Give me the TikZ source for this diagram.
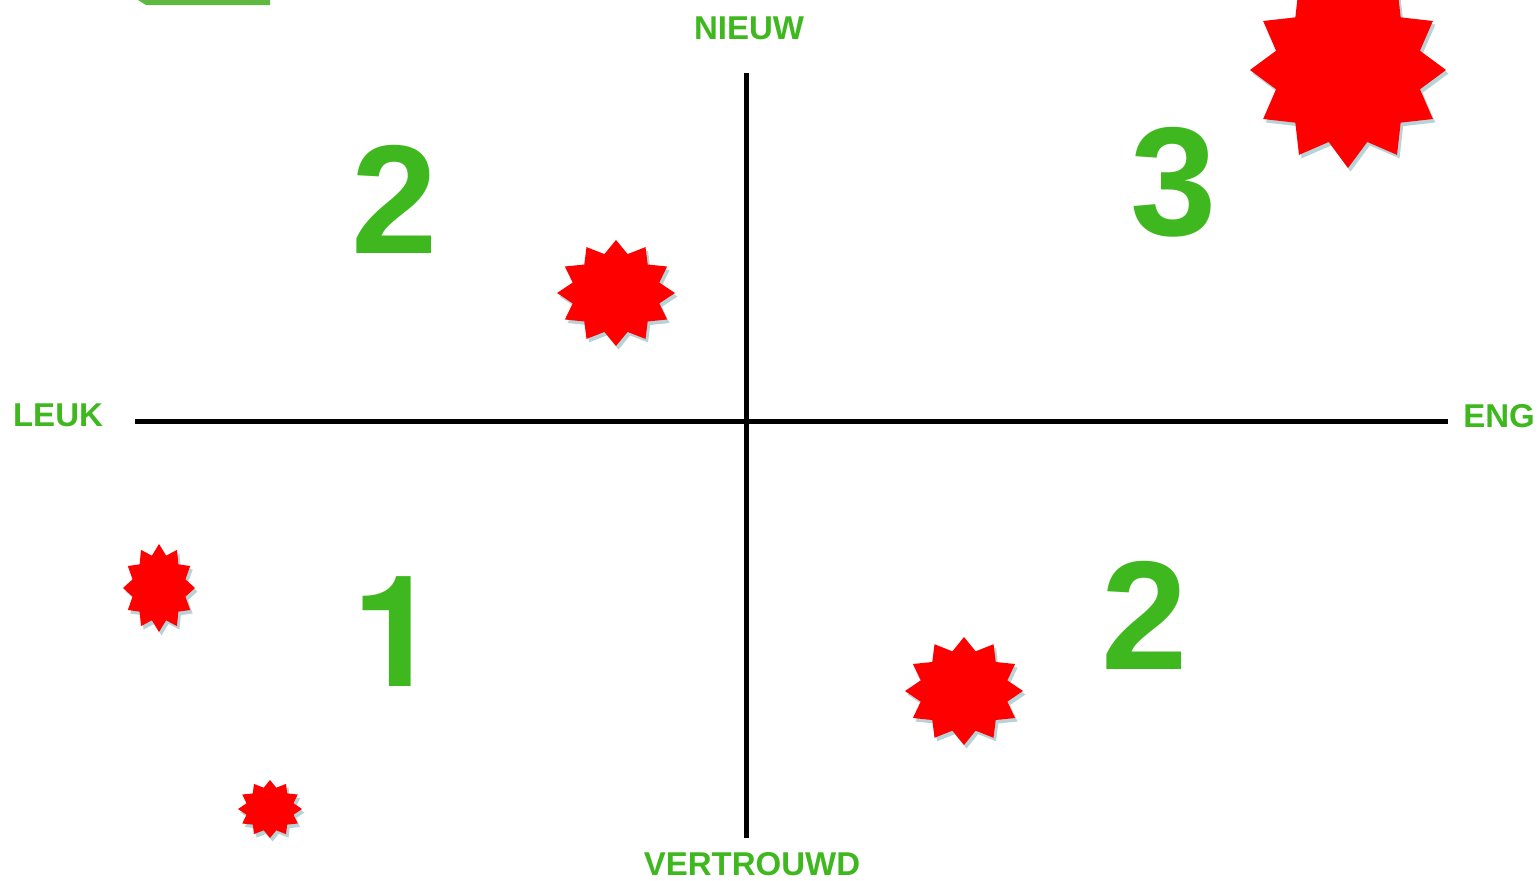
\documentclass[tikz,border=0pt]{standalone}
\usepackage{fontspec}
\setmainfont{Liberation Sans}
\newfontfamily\heros{TeX Gyre Heros}
\definecolor{lblgreen}{RGB}{62,184,30}
\definecolor{tabgreen}{RGB}{95,185,65}
\definecolor{burstred}{RGB}{255,0,0}
\definecolor{burstshadow}{RGB}{165,200,205}
\newcommand{\burst}[4]{%
  \fill[burstshadow,opacity=0.8] plot[samples at={0,15,...,345}]
    ({#1+2.5+#3*(1-0.24*mod(round(\x/15),2))*cos(\x)},{#2+3.5+#4*(1-0.24*mod(round(\x/15),2))*sin(\x)}) -- cycle;
  \fill[burstred] plot[samples at={0,15,...,345}]
    ({#1+#3*(1-0.24*mod(round(\x/15),2))*cos(\x)},{#2+#4*(1-0.24*mod(round(\x/15),2))*sin(\x)}) -- cycle;
}
\tikzset{
  axislbl/.style={text=lblgreen,font=\fontsize{33}{33}\selectfont\bfseries,inner sep=0pt,anchor=center},
  bignum/.style={text=lblgreen,font=\fontsize{155}{155}\selectfont\bfseries,inner sep=0pt,anchor=center},
  axisline/.style={black,line width=5pt}
}
\begin{document}
\begin{tikzpicture}[x=1pt,y=-1pt]
\useasboundingbox (0,0) rectangle (1540,881);
\fill[white] (0,0) rectangle (1540,881);
% partial green tab at top
\fill[tabgreen] (138,0) -- (270,0) -- (270,5) -- (146,5) -- cycle;
% axes
\coordinate (xl) at (135,421);
\coordinate (xr) at (1448,421);
\coordinate (yt) at (746,73);
\coordinate (yb) at (746,838);
\draw[axisline] (xl) -- (xr);
\draw[axisline] (yt) -- (yb);
% axis labels
\node[axislbl] (nieuw) at (749,28.5) {NIEUW};
\node[axislbl] (leuk) at (58,415.5) {LEUK};
\node[axislbl] (eng) at (1499,416) {ENG};
\node[axislbl] (vertrouwd) at (752,864) {VERTROUWD};
% quadrant numbers
\node[bignum] (n2a) at (395,199) {2};
\node[bignum] (n3) at (1174,182) {3};
\node[bignum] (n1) at (396,632) {\heros 1};
\node[bignum] (n2b) at (1145,615) {2};
% bursts
\burst{1348}{70}{98}{98}
\burst{616}{293}{59}{53}
\burst{159}{588}{36}{44}
\burst{270}{809}{32}{29}
\burst{964}{691}{59}{54}
\end{tikzpicture}
\end{document}
